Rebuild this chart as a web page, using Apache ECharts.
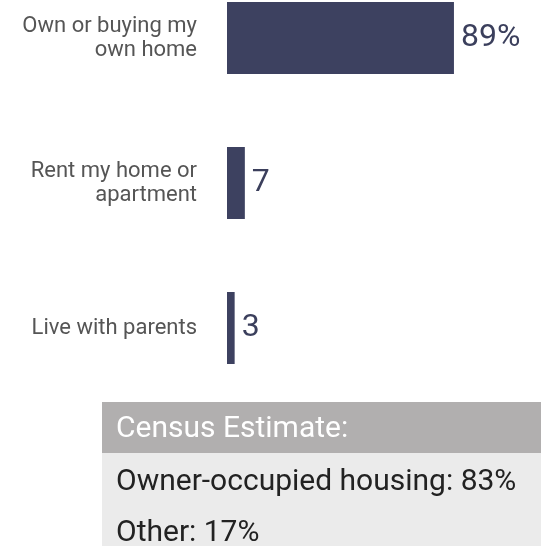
<!DOCTYPE html>
<html>
<head>
<meta charset="utf-8">
<script src="https://cdn.jsdelivr.net/npm/echarts@6/dist/echarts.min.js"></script>
<style>
  html, body { margin: 0; padding: 0; background: #fff; }
  #chart { width: 541px; height: 546px; }
</style>
</head>
<body>
<div id="chart"></div>
<script>
  const categories = ['Own or buying my\nown home', 'Rent my home or\napartment', 'Live with parents'];
  const values = [89, 7, 3];
  const censusTitle = 'Census Estimate:';
  const censusLabels = ['Owner-occupied housing', 'Other'];
  const censusValues = [83, 17];

  const barColor = '#3d4160';

  const chart = echarts.init(document.getElementById('chart'));

  const option = {
    backgroundColor: '#fff',
    animation: false,
    grid: {
      left: 227,
      width: 255,
      top: -34.5,
      height: 435,
      outerBoundsMode: 'none'
    },
    xAxis: {
      type: 'value',
      min: 0,
      max: 100,
      show: false
    },
    yAxis: {
      type: 'category',
      inverse: true,
      data: categories,
      axisLine: { show: false },
      axisTick: { show: false },
      axisLabel: {
        margin: 30,
        fontFamily: 'Roboto',
        fontSize: 22,
        lineHeight: 24,
        color: '#555',
        align: 'right'
      }
    },
    series: [{
      type: 'bar',
      data: values,
      barWidth: 72,
      itemStyle: { color: barColor },
      label: {
        show: true,
        position: 'right',
        distance: 7,
        fontFamily: 'Roboto',
        fontSize: 32,
        color: '#3b3f5c',
        formatter: p => p.dataIndex === 0 ? p.value + '%' : String(p.value)
      }
    }],
    graphic: [
      {
        type: 'rect',
        shape: { x: 102, y: 453, width: 439, height: 93 },
        style: { fill: '#ebebeb' }
      },
      {
        type: 'rect',
        shape: { x: 102, y: 402, width: 439, height: 51 },
        style: { fill: '#b1afaf' }
      },
      {
        type: 'text',
        x: 116,
        y: 429,
        style: {
          text: censusTitle,
          fill: '#fff',
          font: '30px Roboto',
          textVerticalAlign: 'middle'
        }
      },
      {
        type: 'text',
        x: 116,
        y: 482,
        style: {
          text: censusLabels[0] + ': ' + censusValues[0] + '%',
          fill: '#222',
          font: '30px Roboto',
          textVerticalAlign: 'middle'
        }
      },
      {
        type: 'text',
        x: 116,
        y: 533,
        style: {
          text: censusLabels[1] + ': ' + censusValues[1] + '%',
          fill: '#222',
          font: '30px Roboto',
          textVerticalAlign: 'middle'
        }
      }
    ]
  };

  chart.setOption(option);
</script>
</body>
</html>
